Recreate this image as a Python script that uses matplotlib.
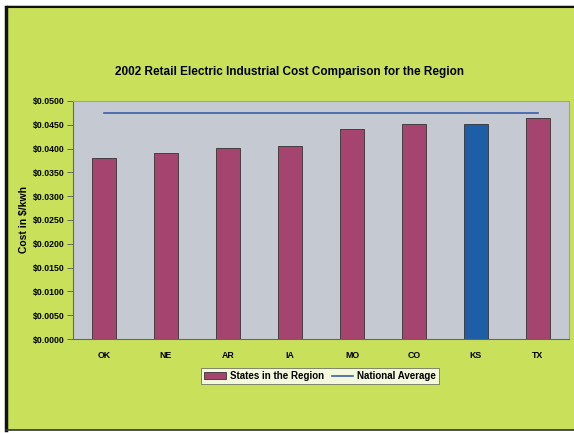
import matplotlib.pyplot as plt
from matplotlib.patches import Rectangle
from matplotlib.lines import Line2D
from matplotlib.ticker import FuncFormatter, MultipleLocator

plt.rcParams['font.family'] = ['Liberation Sans', 'DejaVu Sans']

states = ["OK", "NE", "AR", "IA", "MO", "CO", "KS", "TX"]
cost = [0.0381, 0.0390, 0.0401, 0.0405, 0.0441, 0.0451, 0.0452, 0.0464]
national_avg = [0.0474] * len(states)

lime = "#c9e15a"
bar_col = "#a5446f"
ks_col = "#1d5ea6"

fig = plt.figure(figsize=(5.74, 4.33), dpi=100, facecolor="white")
# lime panel with dark frame on left/top/bottom
fig.patches.append(Rectangle((7 / 574, 3 / 433), 1, 425 / 433, transform=fig.transFigure,
                             facecolor=lime, edgecolor="none", zorder=-2))
fig.add_artist(Line2D([6 / 574, 6 / 574], [3 / 433, 426 / 433], transform=fig.transFigure,
                      color="#111111", lw=2.5))
fig.add_artist(Line2D([6 / 574, 1], [426 / 433, 426 / 433], transform=fig.transFigure,
                      color="#111111", lw=1.5))
fig.add_artist(Line2D([6 / 574, 1], [3 / 433, 3 / 433], transform=fig.transFigure,
                      color="#333333", lw=1.2))

ax = fig.add_axes([73 / 574, 94 / 433, 496 / 574, 238 / 433])
ax.set_facecolor("#c5c9d2")

x = list(range(len(states)))
colors = [ks_col if s == "KS" else bar_col for s in states]
bars = ax.bar(x, cost, width=0.4, color=colors, edgecolor="#333333", linewidth=0.6,
              label="States in the Region", zorder=2)
line, = ax.plot(x, national_avg, color="#3a5fa8", lw=1.2, label="National Average", zorder=3)

ax.set_xlim(-0.5, len(states) - 0.5)
ax.set_ylim(0, 0.05)
ax.yaxis.set_major_locator(MultipleLocator(0.005))
ax.yaxis.set_major_formatter(FuncFormatter(lambda v, p: f"${v:.4f}"))
ax.set_xticks(x)
ax.set_xticklabels(states, fontsize=6.3, fontweight="bold")
for t in ax.get_yticklabels():
    t.set_fontsize(6.3)
    t.set_fontweight("bold")
ax.tick_params(axis="y", length=4, width=0.6, color="#555555", pad=2)
ax.tick_params(axis="x", length=0, pad=9)
for side in ["left", "bottom"]:
    ax.spines[side].set_color("#666666")
    ax.spines[side].set_linewidth(0.8)
for side in ["top", "right"]:
    ax.spines[side].set_color("#9aa0b0")
    ax.spines[side].set_linewidth(0.8)

ax.set_ylabel("Cost in $/kwh", fontsize=7.5, fontweight="bold", labelpad=3)
fig.text(0.505, 1 - 72 / 433, "2002 Retail Electric Industrial Cost Comparison for the Region",
         ha="center", va="center", fontsize=8.5, fontweight="bold")

leg = fig.legend([bars, line], ["States in the Region", "National Average"],
                 loc="center", bbox_to_anchor=(320 / 574, 1 - 376 / 433), ncol=2,
                 fontsize=7, frameon=True, fancybox=False, edgecolor="#555555",
                 handlelength=2.2, handleheight=0.7, columnspacing=0.8, borderpad=0.3,
                 handletextpad=0.4)
leg.get_frame().set_linewidth(0.6)
for t in leg.get_texts():
    t.set_fontweight("bold")

fig.savefig("out.png", dpi=100)
